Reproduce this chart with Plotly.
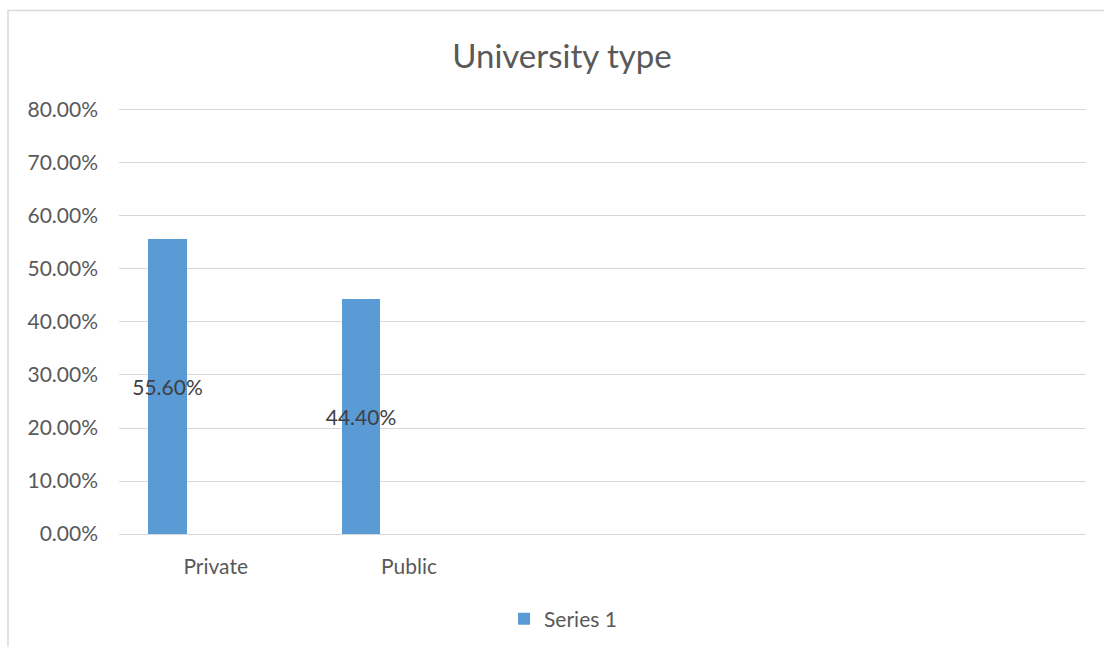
import plotly.graph_objects as go

# Chart data
categories = ["Private", "Public"]
shares = [0.556, 0.444]
series_name = "Series 1"
title_text = "University type"

FONT = "Lato, Calibri, Carlito, sans-serif"
BAR_COLOR = "#5B9BD5"
GRID_COLOR = "#D9D9D9"
TEXT_COLOR = "#595959"

fig = go.Figure()
fig.add_trace(go.Bar(
    x=categories,
    y=shares,
    name=series_name,
    marker=dict(color=BAR_COLOR, line=dict(width=0)),
    width=0.1985,
    offset=-0.348,
    texttemplate="%{y:.2%}",
    textposition="inside",
    insidetextanchor="middle",
    constraintext="none",
    textangle=0,
    textfont=dict(family=FONT, size=21, color="#404040"),
    hoverinfo="skip",
))

fig.update_layout(
    width=1104,
    height=647,
    margin=dict(l=119, r=18, t=105, b=112.5, autoexpand=False),
    paper_bgcolor="white",
    plot_bgcolor="white",
    font=dict(family=FONT, color=TEXT_COLOR, size=21),
    title=dict(
        text=title_text,
        font=dict(family=FONT, size=33, color=TEXT_COLOR),
        x=0.509, xanchor="center",
        y=0.912, yanchor="middle",
    ),
    showlegend=True,
    legend=dict(
        orientation="h",
        xref="container", yref="container",
        x=0.510, xanchor="center",
        y=0.043, yanchor="middle",
        font=dict(family=FONT, size=21, color=TEXT_COLOR),
        itemwidth=30,
    ),
    bargap=0,
)

fig.update_xaxes(
    type="category",
    categoryorder="array",
    categoryarray=categories,
    range=[-0.5, 4.5],
    showgrid=False,
    showline=False,
    zeroline=False,
    ticks="",
    ticklabelstandoff=18,
    tickfont=dict(family=FONT, size=21, color=TEXT_COLOR),
)

fig.update_yaxes(
    range=[0, 0.8094],
    tickvals=[0, 0.1, 0.2, 0.3, 0.4, 0.5, 0.6, 0.7, 0.8],
    tickformat=".2%",
    showgrid=True,
    gridcolor=GRID_COLOR,
    gridwidth=1.3,
    zeroline=True,
    zerolinecolor=GRID_COLOR,
    zerolinewidth=1.3,
    showline=False,
    ticks="",
    ticklabelstandoff=20,
    tickfont=dict(family=FONT, size=21, color=TEXT_COLOR),
)

# Outer chart frame (top and left edges visible)
fig.add_shape(
    type="rect", xref="paper", yref="paper",
    x0=-0.1148, x1=1.05, y0=-0.3, y1=1.22,
    line=dict(color=GRID_COLOR, width=1.5),
    fillcolor="rgba(0,0,0,0)",
    layer="below",
)

fig.write_html("out.html")
